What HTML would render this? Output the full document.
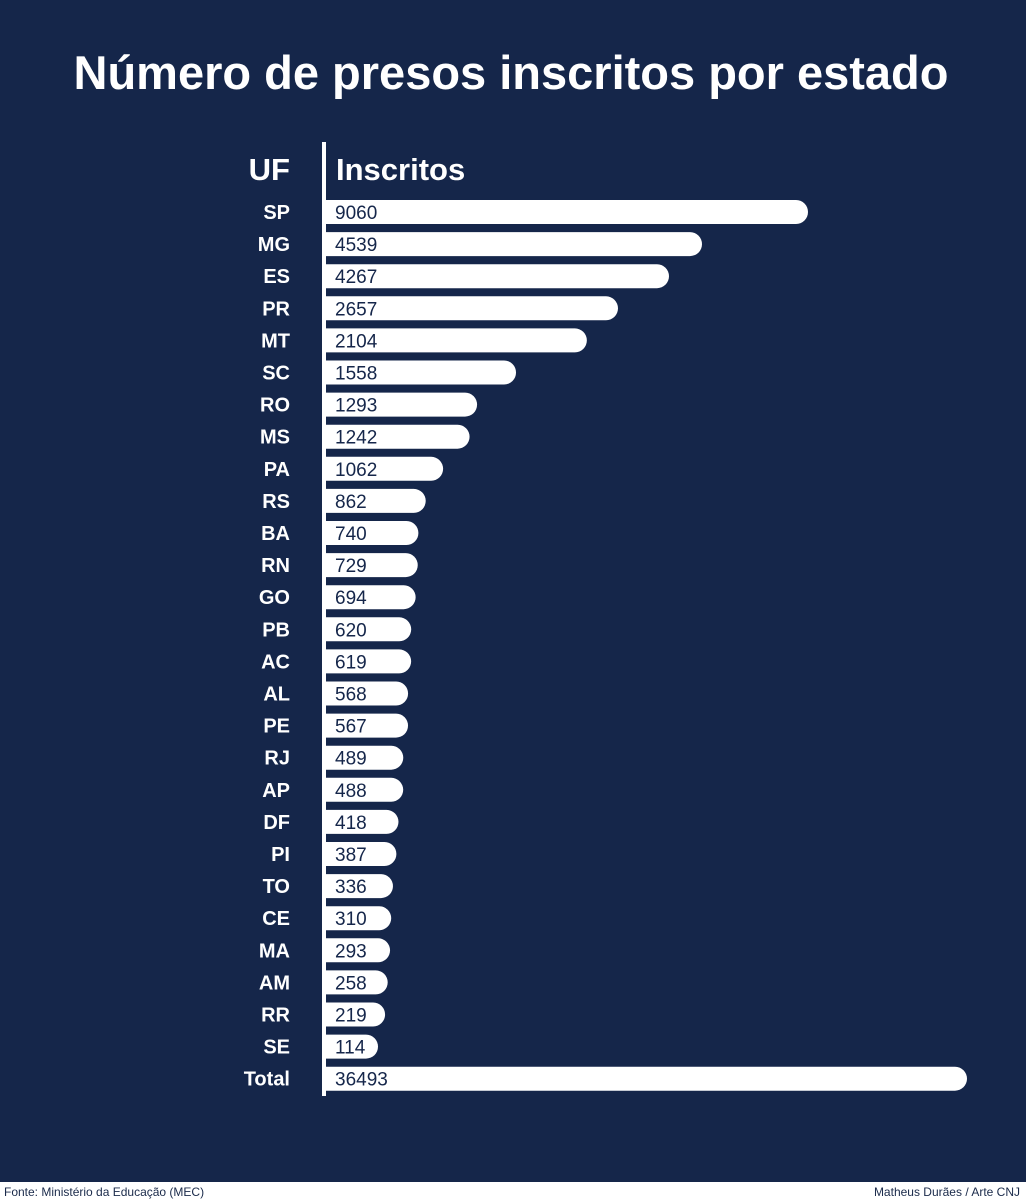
<!DOCTYPE html>
<html><head><meta charset="utf-8"><style>
body{margin:0;width:1026px;height:1200px;overflow:hidden;background:#fff;font-family:"Liberation Sans",sans-serif}
svg{display:block}
</style></head><body>
<svg id="chart" width="1026" height="1200">
<rect x="0" y="0" width="1026" height="1182" fill="#15264a"/>
<text x="511" y="89" text-anchor="middle" fill="#fff" font-size="47" font-weight="bold">Número de presos inscritos por estado</text>
<text x="290" y="180" text-anchor="end" fill="#fff" font-size="31" font-weight="bold">UF</text>
<text x="336" y="180" fill="#fff" font-size="31" font-weight="bold">Inscritos</text>
<rect x="322" y="142" width="4" height="954" fill="#fff"/>
<g id="bars"></g>
<text x="4" y="1196" fill="#1a2a4a" font-size="12">Fonte: Ministério da Educação (MEC)</text>
<text x="1020" y="1196" text-anchor="end" fill="#1a2a4a" font-size="12">Matheus Durães / Arte CNJ</text>
</svg>
<script>
const states=["SP","MG","ES","PR","MT","SC","RO","MS","PA","RS","BA","RN","GO","PB","AC","AL","PE","RJ","AP","DF","PI","TO","CE","MA","AM","RR","SE","Total"];
const values=[9060,4539,4267,2657,2104,1558,1293,1242,1062,862,740,729,694,620,619,568,567,489,488,418,387,336,310,293,258,219,114,36493];
const scaleDomain=[0,114,500,1000,2000,2657,4267,4539,9060,36493];
const scaleRange=[0,52,78,108,255,292,343,376,482,641];
function xScale(v){
  for(let i=1;i<scaleDomain.length;i++){
    if(v<=scaleDomain[i]){const t=(v-scaleDomain[i-1])/(scaleDomain[i]-scaleDomain[i-1]);return scaleRange[i-1]+t*(scaleRange[i]-scaleRange[i-1]);}
  }
  return scaleRange[scaleRange.length-1];
}
function yScale(i){return 212+i*32.1;}
const g=document.getElementById('bars');
const NS="http://www.w3.org/2000/svg";
states.forEach((s,i)=>{
  const y=yScale(i), w=xScale(values[i]), x0=326, h=24;
  const p=document.createElementNS(NS,'path');
  p.setAttribute('d',`M${x0} ${y-h/2}H${x0+w-h/2}A${h/2} ${h/2} 0 0 1 ${x0+w-h/2} ${y+h/2}H${x0}Z`);
  p.setAttribute('fill','#fff');
  
  
  g.appendChild(p);
  const l=document.createElementNS(NS,'text');
  l.setAttribute('x',290);l.setAttribute('y',y+7);l.setAttribute('text-anchor','end');
  l.setAttribute('fill','#fff');l.setAttribute('font-size',s==='Total'?'20':'20');l.setAttribute('font-weight','bold');
  l.textContent=s;
  
  
  g.appendChild(l);
  const v=document.createElementNS(NS,'text');
  v.setAttribute('x',335);v.setAttribute('y',y+7);v.setAttribute('fill','#15264a');v.setAttribute('font-size','19');
  v.textContent=values[i];
  
  
  g.appendChild(v);
});
</script>
</body></html>
